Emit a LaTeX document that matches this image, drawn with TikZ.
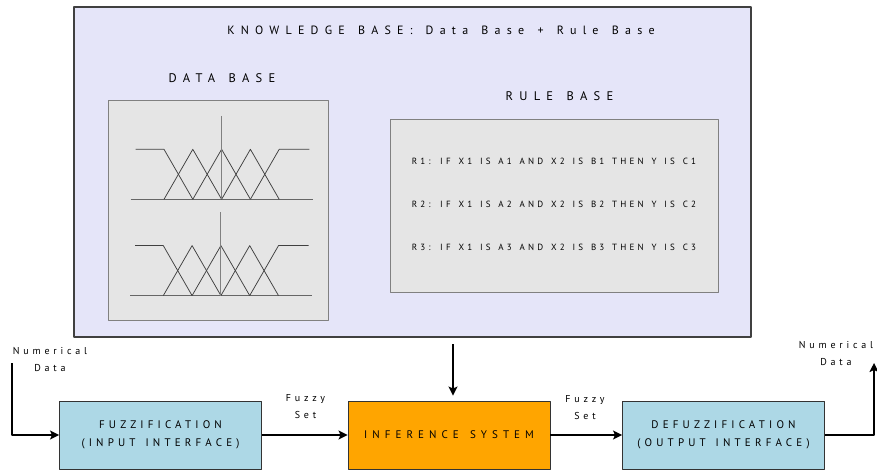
\documentclass[tikz,border=0pt]{standalone}
\usepackage{fontspec}
\setmainfont{PT Sans}[WordSpace=1.4]
\usetikzlibrary{arrows.meta}
\definecolor{kbfill}{RGB}{229,229,249}
\definecolor{panelgray}{RGB}{229,229,229}
\definecolor{stageblue}{RGB}{173,216,230}
\definecolor{stageorange}{RGB}{255,165,0}

\tikzset{
  kbbox/.style={draw=black!75,fill=kbfill,line width=1.1pt,inner sep=0pt},
  panel/.style={draw=black!50,fill=panelgray,line width=0.9pt,inner sep=0pt},
  stage/.style={draw=black!80,line width=0.9pt,inner sep=0pt,minimum width=202pt,minimum height=68pt,align=center,
    font=\fontsize{11}{18.3}\selectfont\addfontfeature{LetterSpace=38}},
  headtext/.style={font=\fontsize{12.5}{14}\selectfont\addfontfeature{LetterSpace=50},text=black},
  ruletext/.style={font=\fontsize{9}{10}\selectfont\addfontfeature{LetterSpace=35.5},text=black},
  notetext/.style={align=center,font=\fontsize{10}{17}\selectfont\addfontfeature{LetterSpace=38},text=black},
  flow/.style={line width=2.6pt,-{Stealth[length=9pt,width=9pt,inset=2pt]}},
  memb/.style={draw=black!75,line width=0.75pt},
  axisline/.style={draw=black!60,line width=0.8pt},
  peakline/.style={draw=black!50,line width=1.1pt}
}

\begin{document}
\begin{tikzpicture}[x=1pt,y=-1pt,line join=round]
\useasboundingbox (0,0) rectangle (877,470);
% knowledge base with its two panels
\node[kbbox,minimum width=677pt,minimum height=330pt] (kb) at (412.5,172) {};
\node[headtext,font=\fontsize{12}{14}\selectfont\addfontfeature{LetterSpace=52}] (kbtitle) at (441,30) {KNOWLEDGE BASE: Data Base + Rule Base};
\node[headtext] (dbtitle) at (222,78) {DATA BASE};
\node[headtext] (rbtitle) at (559.5,96) {RULE BASE};
\node[panel,minimum width=220pt,minimum height=220pt] (dbase) at (218,210) {};
\node[panel,minimum width=328pt,minimum height=173pt] (rbase) at (554,205.5) {};
\node[ruletext] (rule1) at (554,161.7) {R1: IF X1 IS A1 AND X2 IS B1 THEN Y IS C1};
\node[ruletext] (rule2) at (554,204.3) {R2: IF X1 IS A2 AND X2 IS B2 THEN Y IS C2};
\node[ruletext] (rule3) at (554,247.3) {R3: IF X1 IS A3 AND X2 IS B3 THEN Y IS C3};
% membership functions, two input partitions
\foreach \dx/\dy in {0/0,-0.7/96.3} {
\begin{scope}[shift={(\dx,\dy)}]
\draw[axisline] (130.7,199.3) -- (312.7,199.3);
\draw[memb] (135.7,149.3) -- (164,149.3) -- (192.8,199.3);
\foreach \k in {0,1,2}
  \draw[memb] ({164+28.8*\k},199.3) -- ({192.8+28.8*\k},149.3) -- ({221.6+28.8*\k},199.3);
\draw[memb] (250.4,199.3) -- (279.2,149.3) -- (309.3,149.3);
\draw[peakline] (221.6,116) -- (221.6,199.3);
\end{scope}
}
% processing chain
\node[stage,fill=stageblue] (fuzz) at (160.5,435) {FUZZIFICATION\\(INPUT INTERFACE)};
\node[stage,fill=stageorange,font=\fontsize{11}{18.3}\selectfont\addfontfeature{LetterSpace=46}] (infer) at (449,435) {INFERENCE SYSTEM};
\node[stage,fill=stageblue] (defuzz) at (723.5,435) {DEFUZZIFICATION\\(OUTPUT INTERFACE)};
\node[notetext] (numin) at (50,359.5) {Numerical\\Data};
\node[notetext] (numout) at (836,353.5) {Numerical\\Data};
\node[notetext] (setin) at (305.5,406.5) {Fuzzy\\Set};
\node[notetext] (setout) at (585,408) {Fuzzy\\Set};
\coordinate (datain) at (12,363);
\coordinate (dataout) at (874,363);
\coordinate (kbout) at (453,344);
\draw[flow] (datain) |- (fuzz.west);
\draw[flow] (fuzz) -- (infer);
\draw[flow] (infer) -- (defuzz);
\draw[flow] (defuzz.east) -| (dataout);
\draw[flow,shorten >=5pt] (kbout) -- (kbout |- infer.north);
\end{tikzpicture}
\end{document}
